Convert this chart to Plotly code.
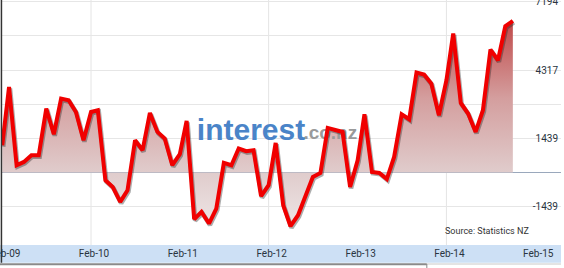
import pandas as pd
import plotly.graph_objects as go

# ---- data ----
start_month = "2009-02-01"
values = [
    1150, 3604, 307, 446, 728, 728, 2694, 1612, 3115, 3044, 2551, 1360,   # Feb-09 .. Jan-10
    2551, 2623, -324, -606, -1238, -745, 1360, 939, 2509, 1709, 1431, 307,  # Feb-10 .. Jan-11
    770, 2172, -1966, -1659, -2147, -1516, 404, 307, 1010, 897, 939, -998,  # Feb-11 .. Jan-12
    -535, 1246, -1377, -2261, -1798, -1027, -185, -20, 1878, 1793, 1709, -606,  # Feb-12 .. Jan-13
    518, 2454, 25, -17, -274, 657, 2454, 2244, 4211, 4126, 3747, 2412,      # Feb-13 .. Jan-14
    3886, 5852, 2930, 2484, 1709, 2623, 5178, 4728, 6161, 6384,             # Feb-14 .. Nov-14
]
dates = pd.date_range(start_month, periods=len(values), freq="MS")

x_tick_dates = ["2009-02-01", "2010-02-01", "2011-02-01", "2012-02-01",
                "2013-02-01", "2014-02-01", "2015-02-01"]
x_tick_labels = ["Feb-09", "Feb-10", "Feb-11", "Feb-12", "Feb-13", "Feb-14", "Feb-15"]
x_grid_dates = ["2010-02-01", "2012-02-01", "2014-02-01"]

y_step = 1438.8
y_tick_vals = [y_step * k for k in range(-1, 6)]
y_tick_labels = ["-1439", "", "1439", "", "4317", "", "7194"]

y_range = [-3052, 7266]
x_range = ["2009-01-31", "2015-05-18"]

source_text = "Source: Statistics NZ"

# ---- figure ----
fig = go.Figure()

# area fill with vertical gradient
fig.add_trace(go.Scatter(
    x=dates, y=values, mode="none", fill="tozeroy",
    fillgradient=dict(
        type="vertical",
        colorscale=[[0, "rgb(242,238,238)"], [0.296, "rgb(224,204,204)"],
                    [0.6, "rgb(212,158,158)"], [1, "rgb(186,50,50)"]],
        start=y_range[0], stop=y_range[1],
    ),
    hoverinfo="skip", showlegend=False,
))

# watermark (above the fill, beneath the line)
fig.add_trace(go.Scatter(
    x=[pd.Timestamp("2011-04-12")], y=[1700],
    mode="text", text=["<b>interest</b>"],
    textposition="middle right",
    textfont=dict(family="Liberation Sans", size=30, color="#4a84c8"),
    hoverinfo="skip", showlegend=False,
))
fig.add_trace(go.Scatter(
    x=[pd.Timestamp("2012-06-23")], y=[1612],
    mode="text", text=["<b>.co.nz</b>"],
    textposition="middle right",
    textfont=dict(family="Liberation Sans", size=19, color="#9a9a9a"),
    hoverinfo="skip", showlegend=False,
))

# shadow under the line
fig.add_trace(go.Scatter(
    x=dates + pd.Timedelta(days=4), y=[v - 60 for v in values], mode="lines",
    line=dict(color="rgba(40,40,40,0.38)", width=4.5),
    hoverinfo="skip", showlegend=False,
))

# main line
fig.add_trace(go.Scatter(
    x=dates, y=values, mode="lines",
    line=dict(color="#f00000", width=4),
    showlegend=False,
))

shapes = []
# x axis band
shapes.append(dict(type="rect", xref="paper", yref="paper", x0=-0.004, x1=1.0,
                   y0=-17.7 / 245, y1=0, fillcolor="#cde0f5", line=dict(width=0),
                   layer="below"))
# vertical grid lines every two years
for d in x_grid_dates:
    shapes.append(dict(type="line", xref="x", yref="paper", x0=d, x1=d, y0=0, y1=1,
                       line=dict(color="#e4e4e4", width=1), layer="below"))
# left frame line
shapes.append(dict(type="line", xref="paper", yref="paper", x0=-0.001, x1=-0.001,
                   y0=-17.7 / 245, y1=1, line=dict(color="#333333", width=1.5)))
# scrollbar-like line beneath the band
shapes.append(dict(type="line", xref="paper", yref="paper", x0=-0.004, x1=0.760,
                   y0=-19.2 / 245, y1=-19.2 / 245, line=dict(color="#8a8a8a", width=2)))
shapes.append(dict(type="line", xref="paper", yref="paper", x0=0.760, x1=1.0,
                   y0=-19.0 / 245, y1=-19.0 / 245, line=dict(color="#c8c8c8", width=1)))
shapes.append(dict(type="line", xref="paper", yref="paper", x0=0.760, x1=0.760,
                   y0=-19.0 / 245, y1=-23 / 245, line=dict(color="#888888", width=1)))

fig.update_layout(
    width=564, height=268,
    margin=dict(l=2, r=3, t=0, b=23, autoexpand=False),
    paper_bgcolor="white", plot_bgcolor="white",
    font=dict(family="Roboto", size=10, color="#333333"),
    shapes=shapes,
    annotations=[dict(
        text=source_text, xref="paper", yref="paper",
        x=0.946, y=14.3 / 245, xanchor="right", yanchor="middle",
        showarrow=False, font=dict(family="Roboto", size=9, color="#333333"),
    )],
    xaxis=dict(
        type="date", range=x_range, automargin=False,
        tickvals=x_tick_dates, ticktext=x_tick_labels,
        showgrid=False, zeroline=False, showline=False,
        ticks="", tickfont=dict(family="Roboto", size=10, color="#2a3440"),
        ticklabelstandoff=1, ticklabeloverflow="allow", ticklabelshift=3,
    ),
    yaxis=dict(
        range=y_range, side="right", automargin=False,
        tickvals=y_tick_vals, ticktext=y_tick_labels,
        ticklabelposition="inside", ticks="", ticklabeloverflow="allow",
        showgrid=True, gridcolor="#e6e6e6", gridwidth=1,
        zeroline=True, zerolinecolor="#9aa8bc", zerolinewidth=1,
        showline=False,
        tickfont=dict(family="Roboto", size=10, color="#2a3440"),
    ),
    hovermode=False,
)

fig.write_html("out.html")
